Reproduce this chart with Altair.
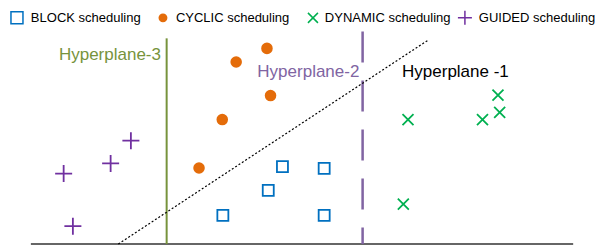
import altair as alt
import pandas as pd

# ---- data ----
categories = ["BLOCK scheduling", "CYCLIC scheduling", "DYNAMIC scheduling", "GUIDED scheduling"]
colors = ["#0070C0", "#E46C0A", "#00B050", "#7030A0"]
shapes = ["square", "circle", "M-1,-1L1,1M1,-1L-1,1", "M-1,0L1,0M0,-1L0,1"]

block_x = [193.3, 239.0, 253.3, 295.3, 295.3]
block_y = [29.3, 55.0, 79.3, 77.7, 29.3]
cyclic_x = [169.3, 192.7, 206.7, 237.7, 241.3]
cyclic_y = [78.0, 127.7, 186.7, 200.7, 152.3]
dynamic_x = [375.0, 379.7, 454.7, 470.3, 472.0]
dynamic_y = [41.0, 127.7, 127.7, 152.7, 135.0]
guided_x = [33.0, 42.3, 80.3, 100.7]
guided_y = [72.3, 18.3, 82.7, 106.0]

# hyperplanes: (x, y) -> (x2, y2)
hp3_x = [136.7]
hp3_y = [211.0]
hp2_x = [334.0]
hp2_y = [218.0]
hp1_x = [88.0]
hp1_y = [0.0]
hp1_x2 = [399.7]
hp1_y2 = [209.0]

# baseline (x axis line)
base_x = [0.0]
base_x2 = [546.0]

label_text = ["Hyperplane-3", "Hyperplane-2", "Hyperplane -1"]
label_x = [131.0, 228.0, 373.7]
label_y = [194.0, 176.7, 176.0]
label_color = ["#77933C", "#8064A2", "#000000"]

X_DOMAIN = [-19, 571]
Y_DOMAIN = [-1, 237]

# legend layout (a row above the plot)
LEGEND_SYMBOL_X = [-14.0, 133.0, 284.0, 437.0]
LEGEND_LABEL_X = [0.0, 146.0, 296.0, 451.0]
LEGEND_Y = 232.0
LEGEND_FONT_SIZE = 13

# ---- tables ----
rows = []
for cat, xs_, ys_ in zip(categories, [block_x, cyclic_x, dynamic_x, guided_x],
                         [block_y, cyclic_y, dynamic_y, guided_y]):
    for xv, yv in zip(xs_, ys_):
        rows.append({"method": cat, "x": xv, "y": yv})
pts = pd.DataFrame(rows)

leg = pd.DataFrame({"method": categories, "sx": LEGEND_SYMBOL_X, "lx": LEGEND_LABEL_X,
                    "y": [LEGEND_Y] * len(categories)})

xs = alt.Scale(domain=X_DOMAIN, nice=False, zero=False)
ys = alt.Scale(domain=Y_DOMAIN, nice=False, zero=False)
color_scale = alt.Scale(domain=categories, range=colors)
shape_scale = alt.Scale(domain=categories, range=shapes)

FONT = "Liberation Sans"


def X(field):
    return alt.X(field, scale=xs, axis=None)


def Y(field):
    return alt.Y(field, scale=ys, axis=None)


def size_cond(cyc, gui, dyn, default):
    return {"condition": [{"test": "datum.method === 'CYCLIC scheduling'", "value": cyc},
                          {"test": "datum.method === 'GUIDED scheduling'", "value": gui},
                          {"test": "datum.method === 'DYNAMIC scheduling'", "value": dyn}],
            "value": default}


fill_cond = {"condition": {"test": "datum.method === 'CYCLIC scheduling'", "value": "#E46C0A"},
             "value": "transparent"}

points = alt.Chart(pts).mark_point(strokeWidth=1.8, opacity=1, filled=False).encode(
    x=X("x:Q"),
    y=Y("y:Q"),
    color=alt.Color("method:N", scale=color_scale, legend=None),
    shape=alt.Shape("method:N", scale=shape_scale, legend=None),
    size=size_cond(95, 289, 121, 121),
    fill=fill_cond,
)

legend_symbols = alt.Chart(leg).mark_point(strokeWidth=1.5, opacity=1, filled=False).encode(
    x=X("sx:Q"),
    y=Y("y:Q"),
    color=alt.Color("method:N", scale=color_scale, legend=None),
    shape=alt.Shape("method:N", scale=shape_scale, legend=None),
    size=size_cond(55, 196, 100, 144),
    fill=fill_cond,
)

legend_labels = alt.Chart(leg).mark_text(
    align="left", baseline="middle", font=FONT, fontSize=LEGEND_FONT_SIZE,
    color="#000000").encode(
    x=X("lx:Q"), y=Y("y:Q"), text="method:N")

base = alt.Chart(pd.DataFrame({"x": base_x, "x2": base_x2, "y": [0.0]})).mark_rule(
    color="#333333", strokeWidth=1.5).encode(x=X("x:Q"), x2="x2:Q", y=Y("y:Q"))

hp3 = alt.Chart(pd.DataFrame({"x": hp3_x, "y": hp3_y, "y2": [0.0]})).mark_rule(
    color="#77933C", strokeWidth=2).encode(x=X("x:Q"), y=Y("y:Q"), y2="y2:Q")

hp2 = alt.Chart(pd.DataFrame({"x": hp2_x, "y": hp2_y, "y2": [0.0]})).mark_rule(
    color="#8064A2", strokeWidth=2.5, strokeDash=[31, 18]).encode(
    x=X("x:Q"), y=Y("y:Q"), y2="y2:Q")

hp1 = alt.Chart(pd.DataFrame({"x": hp1_x, "y": hp1_y, "x2": hp1_x2, "y2": hp1_y2})).mark_rule(
    color="#000000", strokeWidth=1.2, strokeDash=[2, 2]).encode(
    x=X("x:Q"), y=Y("y:Q"), x2="x2:Q", y2="y2:Q")

text_layers = []
for i, al in enumerate(["right", "left", "left"]):
    df = pd.DataFrame({"text": [label_text[i]], "x": [label_x[i]], "y": [label_y[i]]})
    text_layers.append(
        alt.Chart(df).mark_text(align=al, baseline="middle", font=FONT, fontSize=17,
                                color=label_color[i]).encode(
            x=X("x:Q"), y=Y("y:Q"), text="text:N"))

chart = alt.layer(base, hp3, hp2, hp1, points, *text_layers,
                  legend_symbols, legend_labels).properties(
    width=590, height=238,
    autosize=alt.AutoSizeParams(type="fit", contains="padding"),
    padding=0,
).configure_view(stroke=None)

chart.save("out.html", embed_options={"renderer": "svg", "actions": False})
